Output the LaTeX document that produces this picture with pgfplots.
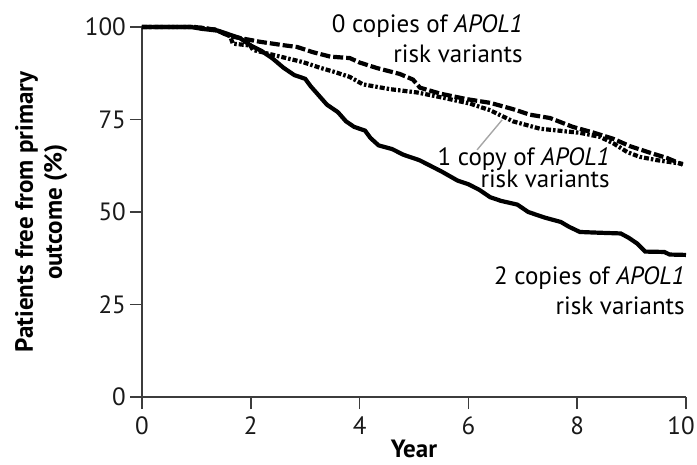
\documentclass[border=0pt]{standalone}
\usepackage{fontspec}
\setmainfont{PT Sans}
\usepackage{pgfplots}
\pgfplotsset{compat=1.18}
\definecolor{axisgray}{HTML}{3C3C3C}

\begin{document}
\fontsize{25}{30}\selectfont
\begin{tikzpicture}
\useasboundingbox (-142pt,-67pt) rectangle (555pt,397pt);
\begin{axis}[
  at={(0,0)}, anchor=south west,
  scale only axis, width=544pt, height=370pt,
  xmin=0, xmax=10, ymin=0, ymax=100,
  axis x line*=bottom, axis y line*=left,
  axis line style={axisgray, line width=1.6pt, -},
  xtick={0,2,...,10}, ytick={0,25,50,75,100},
  xticklabels={0,2,4,6,8,\hbox{10\kern10pt}},
  tick align=outside, major tick length=12pt,
  tick style={axisgray, line width=1.6pt},
  /pgf/number format/assume math mode=true,
  ticklabel style={font=\fontsize{25}{30}\selectfont, text=black!90},
  xticklabel style={anchor=base, inner sep=0pt, yshift=-25pt},
  yticklabel style={anchor=east, inner sep=0pt, xshift=-4pt},
  clip=false,
]
% 0 copies
\addplot[black, line width=4.2pt, dash pattern=on 10pt off 3pt] coordinates {
(0,100) (0.97,100) (1.34,99.3) (1.62,97.5) (1.99,96.5) (2.17,96) (2.59,95.1)
(2.85,94.6) (3.14,93.2) (3.46,92) (3.82,91.6) (4.0,90.4) (4.32,88.9) (4.74,87.3)
(4.98,85.8) (5.11,83.6) (5.48,82) (5.97,80.5) (6.4,79.5) (6.82,77.8) (7.13,76.3)
(7.5,75.4) (7.92,73) (8.29,71.5) (8.66,69.8) (8.97,67.8) (9.34,66) (9.65,64.6)
(9.94,62.8)
};
% 1 copy
\addplot[black, line width=4.2pt, dash pattern=on 5pt off 2pt on 2.5pt off 2pt] coordinates {
(0,100) (0.97,100) (1.34,99.3) (1.62,97.5) (1.67,95.5) (1.99,95) (2.04,93.8)
(2.54,92) (2.96,90.5) (3.27,89) (3.55,87.8) (3.82,86.5) (4.06,84.5) (4.56,83.2)
(5.06,82.3) (5.53,80.9) (6.03,79.3) (6.4,77.5) (6.82,74.5) (7.32,72.5) (8.05,71.4)
(8.42,70.3) (8.66,68.6) (8.92,66.2) (9.15,64.9) (9.47,64) (9.94,63)
};
% 2 copies
\addplot[black, line width=4.2pt] coordinates {
(0,100) (0.9,100) (1.1,99.5) (1.4,99) (1.6,98) (1.8,97) (2.0,95) (2.2,93.5)
(2.4,91.5) (2.6,89) (2.8,87) (3.0,86) (3.1,84) (3.25,81.5) (3.4,79) (3.6,77)
(3.75,74.5) (3.9,73) (4.1,72) (4.2,70) (4.35,68) (4.6,67) (4.8,65.5) (5.1,64)
(5.3,62.5) (5.5,61) (5.8,58.5) (6.0,57.5) (6.2,56) (6.4,54) (6.6,53) (6.9,52)
(7.1,50) (7.4,48.5) (7.7,47.3) (7.85,46) (8.05,44.6) (8.4,44.4) (8.8,44.2)
(8.95,43) (9.1,41.5) (9.25,39.3) (9.6,39.2) (9.7,38.5) (10,38.4)
};
% callout
\addplot[gray!70, line width=1.4pt] coordinates {(6.16,66.8) (6.62,74.9)};

\node[anchor=base east, inner sep=0pt] at (axis cs:7.0,98.6) {0 copies of \textit{APOL1}};
\node[anchor=base east, inner sep=0pt] at (axis cs:7.0,90.5) {risk variants};
\node[anchor=base east, inner sep=0pt] at (axis cs:8.6,62.7) {1 copy of \textit{APOL1}};
\node[anchor=base east, inner sep=0pt] at (axis cs:8.6,56.5) {risk variants};
\node[anchor=base east, inner sep=0pt] at (axis cs:9.98,30.3) {2 copies of \textit{APOL1}};
\node[anchor=base east, inner sep=0pt] at (axis cs:9.98,22.2) {risk variants};
\end{axis}
\node[rotate=90, anchor=base, inner sep=0pt, font=\bfseries] at (-109pt,185pt) {Patients free from primary};
\node[rotate=90, anchor=base, inner sep=0pt, font=\bfseries] at (-80pt,185pt) {outcome (\%)};
\node[anchor=base, inner sep=0pt, font=\bfseries] at (272pt,-60pt) {Year};
\end{tikzpicture}
\end{document}
